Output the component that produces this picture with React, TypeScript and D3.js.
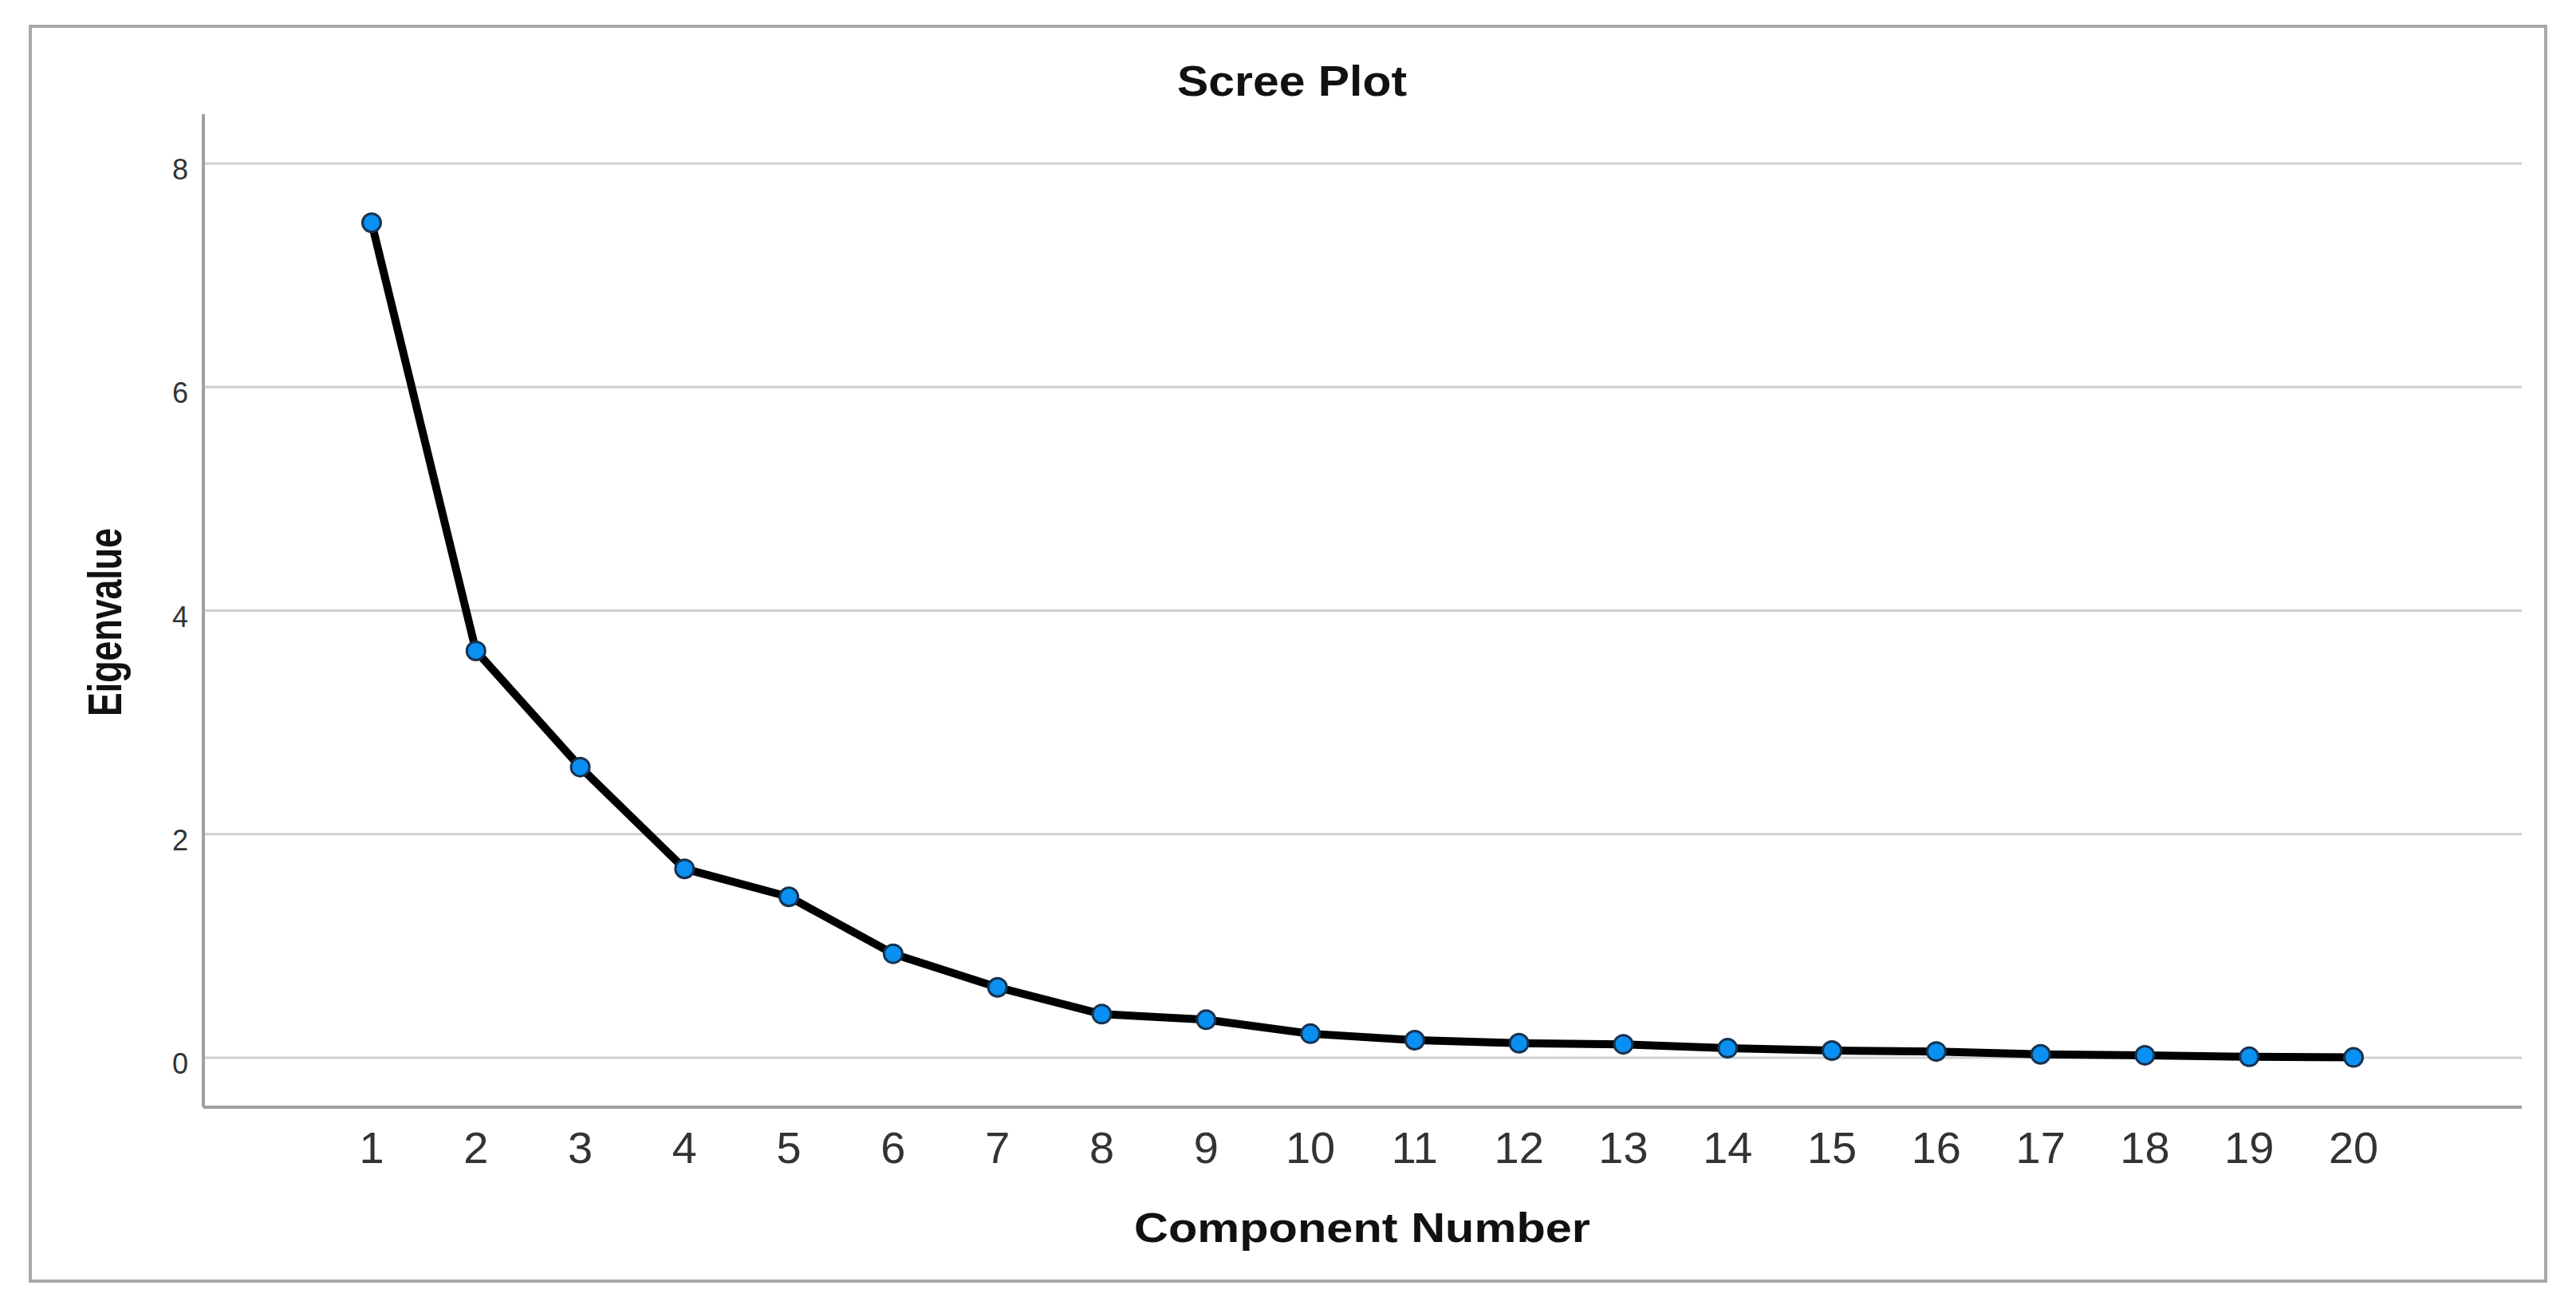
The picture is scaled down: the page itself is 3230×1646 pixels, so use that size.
import React from "react";
import * as d3 from "d3";

const components: number[] = [1, 2, 3, 4, 5, 6, 7, 8, 9, 10, 11, 12, 13, 14, 15, 16, 17, 18, 19, 20];
const eigenvalues: number[] = [7.47, 3.64, 2.6, 1.69, 1.44, 0.93, 0.63, 0.39, 0.34, 0.215, 0.157, 0.13, 0.12, 0.085, 0.064, 0.056, 0.03, 0.022, 0.008, 0.003];
const yTicks: number[] = [0, 2, 4, 6, 8];
const titleText = "Scree Plot";
const xTitle = "Component Number";
const yTitle = "Eigenvalue";

const W = 3230;
const H = 1646;
const plot = { left: 255, right: 3162, top: 143, bottom: 1388 };
const font = "'Liberation Sans', Arial, Helvetica, sans-serif";

export default function App() {
  const x = d3.scaleLinear().domain([-0.613, 21.613]).range([plot.left, plot.right]);
  const y = d3.scaleLinear().domain([-0.4425, 8.4425]).range([plot.bottom, plot.top]);
  const data = components.map((c, i) => ({ c, v: eigenvalues[i] }));
  const line = d3
    .line<{ c: number; v: number }>()
    .x((d) => x(d.c))
    .y((d) => y(d.v));

  return (
    <svg
      width={W}
      height={H}
      style={{ position: "absolute", left: 0, top: 0, background: "#fff" }}
      xmlns="http://www.w3.org/2000/svg"
    >
      <rect x={0} y={0} width={W} height={H} fill="#fff" />
      {/* outer frame */}
      <rect x={38} y={33} width={3192 - 38} height={1606 - 33} fill="none" stroke="#a8a8a8" strokeWidth={4} />

      {/* title */}
      <text
        x={1620}
        y={120}
        textAnchor="middle"
        fontFamily={font}
        fontWeight="bold"
        fontSize={53}
        fill="#111"
        textLength={288}
        lengthAdjust="spacingAndGlyphs"
      >
        {titleText}
      </text>

      {/* gridlines */}
      {yTicks.map((t) => (
        <line key={"g" + t} x1={plot.left} x2={plot.right} y1={y(t)} y2={y(t)} stroke="#d0d0d0" strokeWidth={3} />
      ))}

      {/* axes */}
      <line x1={plot.left} x2={plot.left} y1={plot.top} y2={plot.bottom} stroke="#a0a0a0" strokeWidth={4} />
      <line x1={plot.left} x2={plot.right} y1={plot.bottom} y2={plot.bottom} stroke="#a0a0a0" strokeWidth={4} />

      {/* y tick labels */}
      {yTicks.map((t) => (
        <text
          key={"yt" + t}
          x={236}
          y={y(t) + 20}
          textAnchor="end"
          fontFamily={font}
          fontSize={36}
          fill="#333"
        >
          {t}
        </text>
      ))}

      {/* x tick labels */}
      {components.map((c) => (
        <text key={"xt" + c} x={x(c)} y={1458} textAnchor="middle" fontFamily={font} fontSize={56} fill="#333">
          {c}
        </text>
      ))}

      {/* axis titles */}
      <text
        x={1708}
        y={1557}
        textAnchor="middle"
        fontFamily={font}
        fontWeight="bold"
        fontSize={52}
        fill="#111"
        textLength={572}
        lengthAdjust="spacingAndGlyphs"
      >
        {xTitle}
      </text>
      <text
        transform={`translate(152, 780) rotate(-90)`}
        textAnchor="middle"
        fontFamily={font}
        fontWeight="bold"
        fontSize={60}
        fill="#111"
        textLength={236}
        lengthAdjust="spacingAndGlyphs"
      >
        {yTitle}
      </text>

      {/* line */}
      <path d={line(data) || ""} fill="none" stroke="#000" strokeWidth={10} strokeLinejoin="round" />

      {/* markers */}
      {data.map((d) => (
        <circle key={"p" + d.c} cx={x(d.c)} cy={y(d.v)} r={11.5} fill="#0a90f2" stroke="#17324f" strokeWidth={3} />
      ))}
    </svg>
  );
}
